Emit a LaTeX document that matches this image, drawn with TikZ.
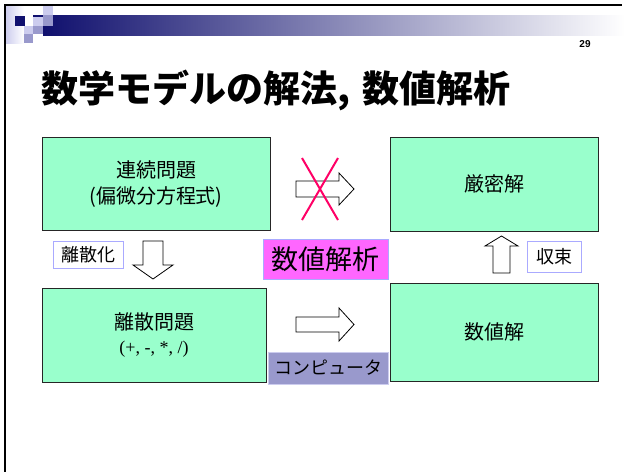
\documentclass[tikz,border=0pt]{standalone}
\usepackage{fontspec}
\newfontfamily\jp{Noto Sans CJK JP}
\newfontfamily\serifen{Liberation Serif}
\newfontfamily\sansen{Liberation Sans}
\definecolor{boxgreen}{RGB}{153,255,204}
\definecolor{navyband}{RGB}{16,16,110}
\definecolor{lavlight}{RGB}{204,204,238}
\definecolor{lavmid}{RGB}{153,153,204}
\definecolor{lavborder}{RGB}{170,170,255}
\definecolor{pinkbox}{RGB}{255,102,255}
\definecolor{crossred}{RGB}{255,0,102}
\tikzset{
  mainbox/.style={draw=black!85, line width=1pt, fill=boxgreen, rectangle, inner sep=0pt, align=center, font=\jp\fontsize{20}{26}\selectfont},
  tagbox/.style={draw=lavborder, line width=0.8pt, fill=white, rectangle, inner sep=0pt, font=\jp\fontsize{18}{22}\selectfont},
  blockarrow/.style={draw=black, line width=0.8pt, fill=white, line join=miter},
}
\begin{document}
\begin{tikzpicture}[x=1pt,y=-1pt]
\useasboundingbox (0,0) rectangle (625,472);
% header decoration
\shade[left color=lavlight, right color=white] (5,6) rectangle (24,43);
\shade[left color=navyband, right color=white] (43,15) rectangle (625,35);
\fill[navyband] (33,15) rectangle (43,16.5);
\fill[navyband] (15,16) rectangle (25,26);
\fill[lavlight] (43,6) rectangle (53,15);
\fill[lavlight] (33,16.5) rectangle (43,26);
\fill[lavmid] (43,15) rectangle (53,26);
\fill[lavlight] (24,26) rectangle (33,34);
\fill[lavmid] (33,26) rectangle (43,34);
\fill[lavmid] (24,34) rectangle (33,43);
\draw[line width=2pt] (5,472) -- (5,5) -- (622,5);
\node[font=\sansen\bfseries\fontsize{10}{12}\selectfont] (pg) at (585,44) {29};
% title
\node[anchor=west, inner sep=0pt, font=\jp\bfseries\fontsize{37}{42}\selectfont] (title) at (41,90) {数学モデルの解法,\hspace{12pt}数値解析};
% boxes
\node[mainbox, minimum width=228pt, minimum height=93pt] (cont) at (156,184) {連続問題\\(偏微分方程式)};
\node[mainbox, minimum width=208pt, minimum height=94pt] (exact) at (494,184) {厳密解};
\node[mainbox, minimum width=224pt, minimum height=94pt] (disc) at (154,335) {離散問題\\[-2pt]{\serifen\fontsize{18}{22}\selectfont (+, -, *, /)}};
\node[mainbox, minimum width=208pt, minimum height=98pt] (num) at (494,332) {数値解};
% tags
\node[tagbox, minimum width=70pt, minimum height=27pt] (tdisc) at (88,254.5) {離散化};
\node[tagbox, fill=pinkbox, minimum width=125pt, minimum height=40pt, font=\jp\fontsize{27}{30}\selectfont] (tnum) at (325.5,259) {数値解析};
\node[tagbox, minimum width=54pt, minimum height=31pt] (tconv) at (554,256.5) {収束};
\node[tagbox, fill=lavmid, draw=lavlight, minimum width=120pt, minimum height=32pt] (tcomp) at (328,368) {コンピュータ};
% block arrows
\draw[blockarrow] (296,181) -- (339,181) -- (339,173) -- (354,189) -- (339,205) -- (339,197) -- (296,197) -- cycle;
\draw[blockarrow] (296,317) -- (339,317) -- (339,308) -- (354,324.5) -- (339,341) -- (339,332) -- (296,332) -- cycle;
\draw[blockarrow] (143,241) -- (163,241) -- (163,265) -- (173,265) -- (153,279) -- (133,265) -- (143,265) -- cycle;
\draw[blockarrow] (493,273) -- (510,273) -- (510,246) -- (518,246) -- (501.5,236) -- (485,246) -- (493,246) -- cycle;
% red cross
\draw[crossred, line width=2pt] (302,158) -- (338,220);
\draw[crossred, line width=2pt] (338,158) -- (302,220);
\end{tikzpicture}
\end{document}
